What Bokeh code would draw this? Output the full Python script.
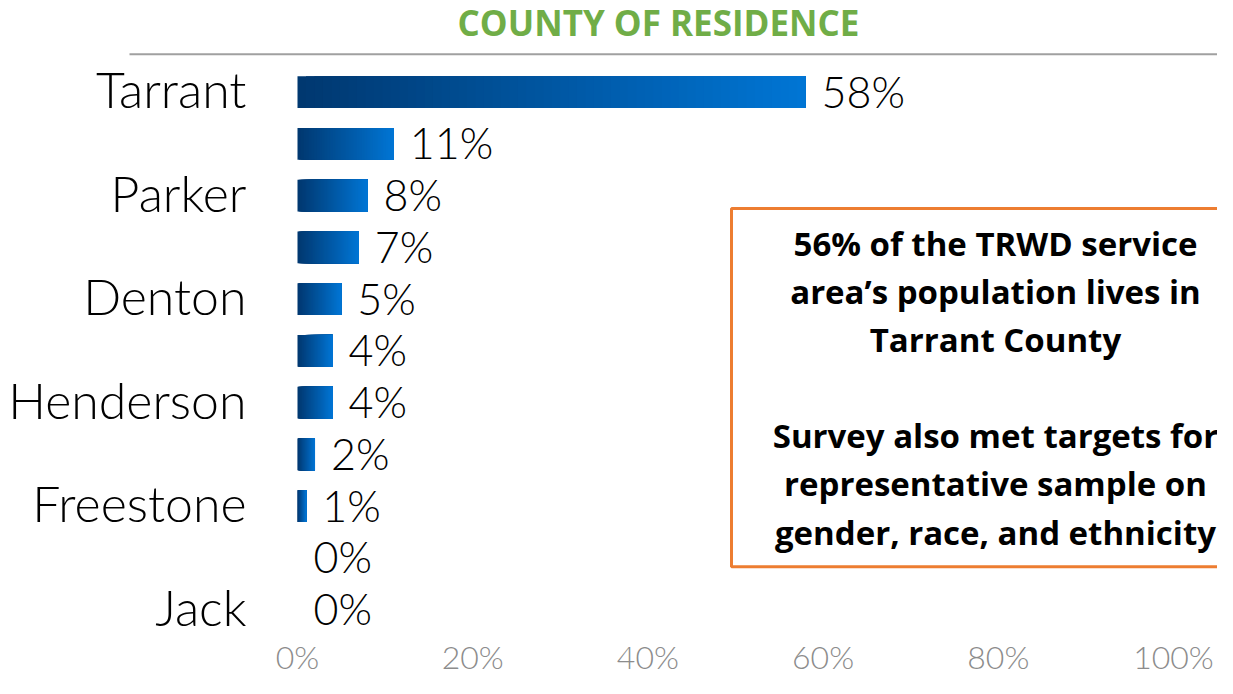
from bokeh.plotting import figure
from bokeh.models import ColumnDataSource, Range1d, FixedTicker, PrintfTickFormatter, BoxAnnotation
from bokeh.core.properties import value
from bokeh.embed import file_html
from bokeh.resources import INLINE

# ---- data ----
labels = ["Tarrant", "", "Parker", "", "Denton", "", "Henderson", "", "Freestone", "", "Jack"]
shares = [58, 11, 8, 7, 5, 4, 4, 2, 1, 0, 0]
ticks = [0, 20, 40, 60, 80, 100]
title_text = "COUNTY OF RESIDENCE"
note_text = ("56% of the TRWD service\narea\u2019s population lives in\nTarrant County\n\n"
             "Survey also met targets for\nrepresentative sample on\ngender, race, and ethnicity")

# ---- layout (pixels in figure space) ----
W, H = 1217, 678
FRAME_BOTTOM = 638
X0, PPX = 297.0, 8.76      # px of 0%, px per percent
Y0, PPY = 92.0, 52.0       # px of first row centre, px per row

def dx(px):
    return (px - X0) / PPX

def dy(py):
    return (py - Y0) / PPY

LIGHT = "Lato Light"
BOLD = "Open Sans"

p = figure(width=W, height=H, output_backend="svg", toolbar_location=None,
           x_range=Range1d(dx(0), dx(W)), y_range=Range1d(dy(FRAME_BOTTOM), dy(0)),
           min_border_left=0, min_border_right=0, min_border_top=0,
           min_border_bottom=H - FRAME_BOTTOM, y_axis_location=None)
p.outline_line_color = None
p.grid.visible = False
p.background_fill_color = "white"
p.border_fill_color = "white"

# gradient bars: overlapping slices (each to the bar end) from dark to bright blue
c0 = (0, 56, 112)
c1 = (0, 117, 212)
N = 60
left, right, ys, cols = [], [], [], []
for i, v in enumerate(shares):
    if v <= 0:
        continue
    for k in range(N):
        t = k / (N - 1)
        left.append(v * k / N)
        right.append(v)
        ys.append(i)
        cols.append("#%02x%02x%02x" % tuple(int(round(a + (b - a) * t)) for a, b in zip(c0, c1)))
bars = ColumnDataSource(dict(left=left, right=right, y=ys, color=cols))
p.hbar(y="y", left="left", right="right", height=32 / PPY, fill_color="color",
       line_color=None, source=bars)

rows = list(range(len(shares)))
lab_src = ColumnDataSource(dict(x=shares, y=rows, t=["%d%%" % v for v in shares],
                                zero=[0] * len(rows), name=labels))
# value labels
p.text(x="x", y="y", text="t", source=lab_src, x_offset=16, y_offset=-1,
       text_font=value(LIGHT), text_font_size="43px", text_color="#000000",
       text_align="left", text_baseline="middle")
# category labels
p.text(x="zero", y="y", text="name", source=lab_src, x_offset=-51, y_offset=-3,
       text_font=value(LIGHT), text_font_size="50px", text_color="#000000",
       text_align="right", text_baseline="middle")

# title and rule
p.text(x=[dx(658)], y=[dy(22)], text=[title_text], text_font=value(BOLD),
       text_font_style="bold", text_font_size="35px", text_color="#70AD47",
       text_align="center", text_baseline="middle")
p.segment(x0=[dx(129)], y0=[dy(54)], x1=[dx(W + 5)], y1=[dy(54)],
          line_color="#A0A0A0", line_width=2)

# note box
p.add_layout(BoxAnnotation(left=dx(731), right=dx(W + 20), top=dy(209), bottom=dy(569),
                           fill_color=None, fill_alpha=0, line_color="#ED7D31",
                           line_alpha=1.0, line_width=3))
p.text(x=[dx(995)], y=[dy(389)], text=[note_text], text_font=value(BOLD),
       text_font_style="bold", text_font_size="33px", text_color="#000000",
       text_align="center", text_baseline="middle", text_line_height=1.07)

# x axis
ax = p.xaxis[0]
ax.ticker = FixedTicker(ticks=ticks)
ax.formatter = PrintfTickFormatter(format="%d%%")
ax.axis_line_color = None
ax.major_tick_line_color = None
ax.minor_tick_line_color = None
ax.major_tick_out = 0
ax.major_tick_in = 0
ax.major_label_standoff = 1
ax.major_label_text_font = LIGHT
ax.major_label_text_font_size = "32px"
ax.major_label_text_color = "#8C8C8C"

open("out.html", "w").write(file_html(p, INLINE))
